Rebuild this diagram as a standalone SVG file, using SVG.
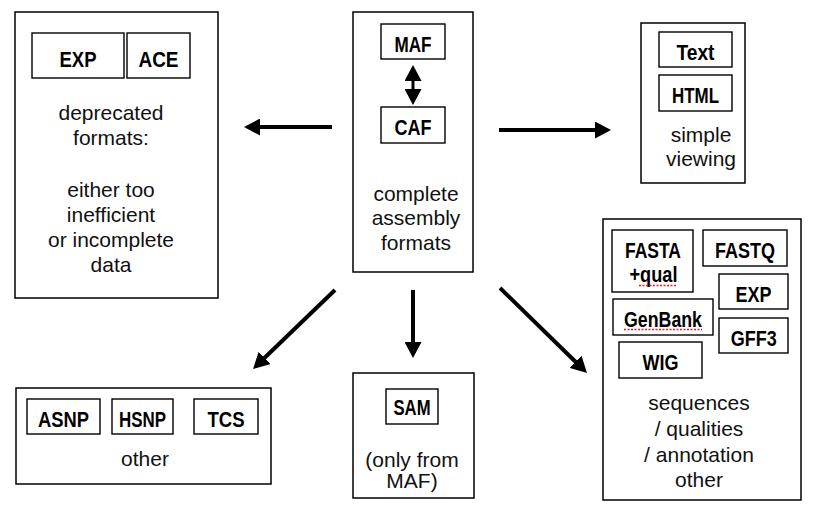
<svg xmlns="http://www.w3.org/2000/svg" width="818" height="513" viewBox="0 0 818 513">
<style>
  .box { fill: #fff; stroke: #000; stroke-width: 1.5; }
  .ibox { fill: #fff; stroke: #000; stroke-width: 1.4; }
  .lbl { font-family: "Liberation Sans", Arial, sans-serif; font-weight: bold; font-size: 22px; text-anchor: middle; fill: #000; }
  .txt { font-family: "Liberation Sans", Arial, sans-serif; font-size: 21px; text-anchor: middle; fill: #111; }
  .arrow { stroke: #000; stroke-width: 4; fill: none; marker-end: url(#head); }
  .dbl { stroke: #000; stroke-width: 3; fill: none; marker-start: url(#head); marker-end: url(#head); }
  .squig { stroke: #e02020; stroke-width: 1.6; stroke-dasharray: 2 1.5; fill: none; }
</style>
<defs>
  <marker id="head" markerUnits="userSpaceOnUse" markerWidth="17" markerHeight="17" refX="2" refY="8.5" orient="auto-start-reverse">
    <path d="M0,0 L16,8.5 L0,17 z" fill="#000"/>
  </marker>
</defs>
<rect width="818" height="513" fill="#fff"/>

<g id="deprecated">
  <rect class="box" x="15" y="12" width="203" height="286"/>
  <rect class="ibox" x="32" y="33" width="92" height="45"/>
  <text class="lbl" x="78" y="67" textLength="37" lengthAdjust="spacingAndGlyphs">EXP</text>
  <rect class="ibox" x="127" y="33" width="63" height="45"/>
  <text class="lbl" x="158.5" y="67" textLength="40" lengthAdjust="spacingAndGlyphs">ACE</text>
  <text class="txt" x="111" y="120">deprecated</text>
  <text class="txt" x="111" y="145">formats:</text>
  <text class="txt" x="111" y="197">either too</text>
  <text class="txt" x="111" y="222">inefficient</text>
  <text class="txt" x="111" y="247">or incomplete</text>
  <text class="txt" x="111" y="272">data</text>
</g>

<g id="complete">
  <rect class="box" x="353" y="12" width="120" height="260"/>
  <rect class="ibox" x="381" y="24" width="64" height="35"/>
  <text class="lbl" x="413" y="51.7" textLength="37" lengthAdjust="spacingAndGlyphs">MAF</text>
  <rect class="ibox" x="381" y="107" width="64" height="36"/>
  <text class="lbl" x="413" y="135" textLength="37" lengthAdjust="spacingAndGlyphs">CAF</text>
  <line class="dbl" x1="413" y1="79" x2="413" y2="91"/>
  <text class="txt" x="416" y="200.5">complete</text>
  <text class="txt" x="416" y="225">assembly</text>
  <text class="txt" x="416" y="250">formats</text>
</g>

<g id="simple">
  <rect class="box" x="641" y="23" width="104" height="160"/>
  <rect class="ibox" x="659" y="32" width="73" height="35"/>
  <text class="lbl" x="695.5" y="60" textLength="38" lengthAdjust="spacingAndGlyphs">Text</text>
  <rect class="ibox" x="659" y="75" width="73" height="36"/>
  <text class="lbl" x="695.5" y="103" textLength="47" lengthAdjust="spacingAndGlyphs">HTML</text>
  <text class="txt" x="701" y="142">simple</text>
  <text class="txt" x="701" y="166">viewing</text>
</g>

<g id="sequences">
  <rect class="box" x="603" y="219" width="198" height="281"/>
  <rect class="ibox" x="612" y="230" width="81" height="62"/>
  <text class="lbl" x="653" y="258" textLength="56" lengthAdjust="spacingAndGlyphs">FASTA</text>
  <text class="lbl" x="653.5" y="282" textLength="48" lengthAdjust="spacingAndGlyphs">+qual</text>
  <line class="squig" x1="639" y1="285.5" x2="677" y2="285.5"/>
  <rect class="ibox" x="703" y="230" width="84" height="36"/>
  <text class="lbl" x="745" y="258" textLength="60" lengthAdjust="spacingAndGlyphs">FASTQ</text>
  <rect class="ibox" x="719" y="274" width="69" height="35"/>
  <text class="lbl" x="753.5" y="302" textLength="36" lengthAdjust="spacingAndGlyphs">EXP</text>
  <rect class="ibox" x="613" y="299" width="100" height="36"/>
  <text class="lbl" x="663" y="327" textLength="78" lengthAdjust="spacingAndGlyphs">GenBank</text>
  <line class="squig" x1="624" y1="329.5" x2="702" y2="329.5"/>
  <rect class="ibox" x="719" y="318" width="69" height="35"/>
  <text class="lbl" x="753.7" y="346" textLength="46" lengthAdjust="spacingAndGlyphs">GFF3</text>
  <rect class="ibox" x="619" y="342" width="83" height="36"/>
  <text class="lbl" x="660.5" y="370" textLength="36" lengthAdjust="spacingAndGlyphs">WIG</text>
  <text class="txt" x="699" y="410">sequences</text>
  <text class="txt" x="699" y="436">/ qualities</text>
  <text class="txt" x="699" y="461.5">/ annotation</text>
  <text class="txt" x="699" y="486.5">other</text>
</g>

<g id="other">
  <rect class="box" x="16" y="388" width="255" height="96"/>
  <rect class="ibox" x="27" y="399" width="73" height="35"/>
  <text class="lbl" x="63.5" y="427" textLength="51" lengthAdjust="spacingAndGlyphs">ASNP</text>
  <rect class="ibox" x="112" y="399" width="61" height="35"/>
  <text class="lbl" x="142.5" y="427" textLength="47" lengthAdjust="spacingAndGlyphs">HSNP</text>
  <rect class="ibox" x="194" y="399" width="64" height="35"/>
  <text class="lbl" x="226" y="427" textLength="37" lengthAdjust="spacingAndGlyphs">TCS</text>
  <text class="txt" x="145" y="466">other</text>
</g>

<g id="sam">
  <rect class="box" x="353" y="373" width="121" height="125"/>
  <rect class="ibox" x="386" y="389" width="52" height="35"/>
  <text class="lbl" x="412" y="415" textLength="37" lengthAdjust="spacingAndGlyphs">SAM</text>
  <text class="txt" x="412" y="466.5">(only from</text>
  <text class="txt" x="412" y="487.5">MAF)</text>
</g>

<g id="connectors">
  <line class="arrow" x1="332" y1="127" x2="258" y2="127"/>
  <line class="arrow" x1="499" y1="130" x2="597" y2="130"/>
  <line class="arrow" x1="335" y1="290" x2="263.1" y2="359.3"/>
  <line class="arrow" x1="413" y1="290" x2="413" y2="344"/>
  <line class="arrow" x1="500" y1="288" x2="577" y2="363.2"/>
</g>
</svg>
